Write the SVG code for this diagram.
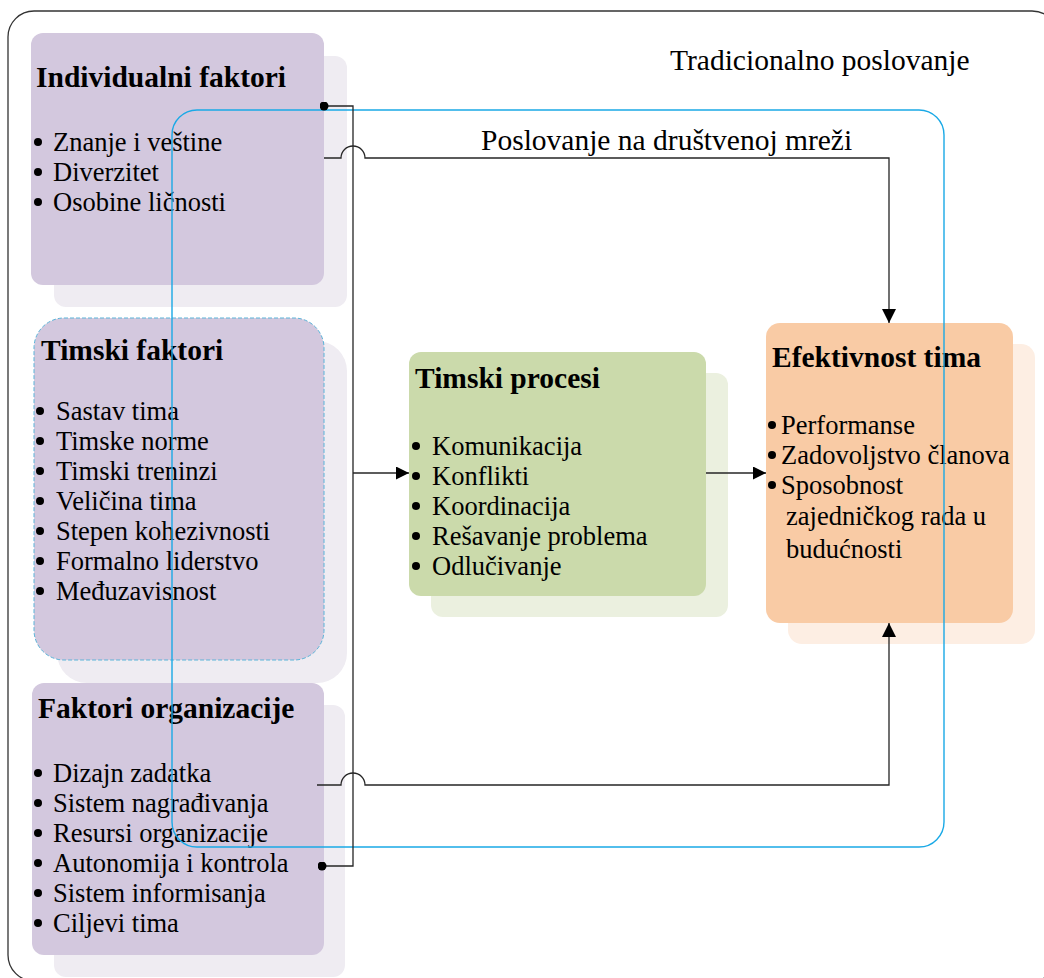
<svg xmlns="http://www.w3.org/2000/svg" width="1044" height="978" viewBox="0 0 1044 978">
  <style>
    .t{font-family:"Liberation Serif","Times New Roman",serif;fill:#000}
    .h{font-size:29.5px;font-weight:bold}
    .b{font-size:26.5px}
    .lbl{font-size:29.5px}
    .ln{fill:none;stroke:#262626;stroke-width:1.3}
    .dot{fill:#000}
    .purple{fill:#d3c8de}
    .purple-sh{fill:#efecf2}
  </style>
  <defs>
    <marker id="arr" viewBox="0 0 10 10" refX="10" refY="5" markerWidth="14" markerHeight="13" markerUnits="userSpaceOnUse" orient="auto">
      <path d="M0,0 L10,5 L0,10 z" fill="#000"/>
    </marker>
    <marker id="arrLong" viewBox="0 0 10 10" refX="10" refY="5" markerWidth="19" markerHeight="14" markerUnits="userSpaceOnUse" orient="auto">
      <path d="M0,0 L10,5 L0,10 z" fill="#000"/>
    </marker>
    <marker id="dotEnd" viewBox="0 0 10 10" refX="5" refY="5" markerWidth="9" markerHeight="9" markerUnits="userSpaceOnUse">
      <circle cx="5" cy="5" r="5" fill="#000"/>
    </marker>
  </defs>

  <rect width="1044" height="978" fill="#fff"/>

  <!-- outer frame: traditional business -->
  <g id="tradicionalno">
    <rect x="8" y="11" width="1050" height="970" rx="26" fill="none" stroke="#333" stroke-width="1.3"/>
    <text class="t lbl" x="670" y="70">Tradicionalno poslovanje</text>
  </g>

  <g id="individualni">
    <rect class="purple-sh" x="54" y="56" width="293" height="251" rx="12"/>
    <rect class="purple" x="31" y="33" width="293" height="252" rx="12"/>
    <text class="t h" x="36" y="87">Individualni faktori</text>
    <circle class="dot" cx="38" cy="142" r="4"/>
    <circle class="dot" cx="38" cy="172" r="4"/>
    <circle class="dot" cx="38" cy="202" r="4"/>
    <text class="t b" x="53" y="151">Znanje i veštine</text>
    <text class="t b" x="53" y="181">Diverzitet</text>
    <text class="t b" x="53" y="211">Osobine ličnosti</text>
  </g>

  <g id="timski-faktori">
    <rect class="purple-sh" x="57" y="341" width="290" height="342" rx="30"/>
    <rect class="purple" x="34" y="318" width="290" height="342" rx="30" stroke="#5ab3d8" stroke-width="1" stroke-dasharray="4 2"/>
    <text class="t h" x="41" y="360">Timski faktori</text>
    <g>
      <circle class="dot" cx="40" cy="411" r="4"/>
      <circle class="dot" cx="40" cy="441" r="4"/>
      <circle class="dot" cx="40" cy="471" r="4"/>
      <circle class="dot" cx="40" cy="501" r="4"/>
      <circle class="dot" cx="40" cy="531" r="4"/>
      <circle class="dot" cx="40" cy="561" r="4"/>
      <circle class="dot" cx="40" cy="591" r="4"/>
    </g>
    <text class="t b" x="56" y="420">Sastav tima</text>
    <text class="t b" x="56" y="450">Timske norme</text>
    <text class="t b" x="56" y="480">Timski treninzi</text>
    <text class="t b" x="56" y="510">Veličina tima</text>
    <text class="t b" x="56" y="540">Stepen kohezivnosti</text>
    <text class="t b" x="56" y="570">Formalno liderstvo</text>
    <text class="t b" x="56" y="600">Međuzavisnost</text>
  </g>

  <g id="faktori-organizacije">
    <rect class="purple-sh" x="54" y="705" width="291" height="272" rx="12"/>
    <rect class="purple" x="32" y="683" width="292" height="272" rx="12"/>
    <text class="t h" x="38" y="718">Faktori organizacije</text>
    <g>
      <circle class="dot" cx="38" cy="773" r="4"/>
      <circle class="dot" cx="38" cy="803" r="4"/>
      <circle class="dot" cx="38" cy="833" r="4"/>
      <circle class="dot" cx="38" cy="863" r="4"/>
      <circle class="dot" cx="38" cy="893" r="4"/>
      <circle class="dot" cx="38" cy="923" r="4"/>
    </g>
    <text class="t b" x="53" y="782">Dizajn zadatka</text>
    <text class="t b" x="53" y="812">Sistem nagrađivanja</text>
    <text class="t b" x="53" y="842">Resursi organizacije</text>
    <text class="t b" x="53" y="872">Autonomija i kontrola</text>
    <text class="t b" x="53" y="902">Sistem informisanja</text>
    <text class="t b" x="53" y="932">Ciljevi tima</text>
  </g>

  <g id="timski-procesi">
    <rect x="431" y="373" width="297" height="244" rx="12" fill="#ebf0df"/>
    <rect x="409" y="352" width="297" height="244" rx="12" fill="#cbdaab"/>
    <text class="t h" x="415" y="388">Timski procesi</text>
    <g>
      <circle class="dot" cx="416" cy="446" r="4"/>
      <circle class="dot" cx="416" cy="476" r="4"/>
      <circle class="dot" cx="416" cy="506" r="4"/>
      <circle class="dot" cx="416" cy="536" r="4"/>
      <circle class="dot" cx="416" cy="566" r="4"/>
    </g>
    <text class="t b" x="432" y="455">Komunikacija</text>
    <text class="t b" x="432" y="485">Konflikti</text>
    <text class="t b" x="432" y="515">Koordinacija</text>
    <text class="t b" x="432" y="545">Rešavanje problema</text>
    <text class="t b" x="432" y="575">Odlučivanje</text>
  </g>

  <g id="efektivnost">
    <rect x="788" y="344" width="247" height="300" rx="14" fill="#fdeee3"/>
    <rect x="766" y="323" width="247" height="300" rx="14" fill="#f9cba5"/>
    <text class="t h" x="772" y="367">Efektivnost tima</text>
    <circle class="dot" cx="772" cy="425" r="4"/>
    <circle class="dot" cx="772" cy="455" r="4"/>
    <circle class="dot" cx="772" cy="485" r="4"/>
    <text class="t b" x="781" y="434">Performanse</text>
    <text class="t b" x="781" y="464">Zadovoljstvo članova</text>
    <text class="t b" x="781" y="494">Sposobnost</text>
    <text class="t b" x="786" y="525">zajedničkog rada u</text>
    <text class="t b" x="786" y="558">budućnosti</text>
  </g>

  <!-- inner frame: business on the social network -->
  <g id="drustvena-mreza">
    <rect x="172" y="110" width="772" height="737" rx="25" fill="none" stroke="#1aa9e6" stroke-width="1.4"/>
    <text class="t lbl" x="481" y="150">Poslovanje na društvenoj mreži</text>
  </g>

  <g id="connectors">
    <path class="ln" d="M324,106 H353 V866 H322" marker-start="url(#dotEnd)" marker-end="url(#dotEnd)"/>
    <path class="ln" d="M324,158 H341 A12,12 0 0 1 365,158 H889 V323" marker-end="url(#arrLong)"/>
    <path class="ln" d="M317,785 H341 A12,12 0 0 1 365,785 H889 V623" marker-end="url(#arrLong)"/>
    <path class="ln" d="M353,473 H409" marker-end="url(#arr)"/>
    <path class="ln" d="M706,473 H766" marker-end="url(#arr)"/>
  </g>
</svg>
